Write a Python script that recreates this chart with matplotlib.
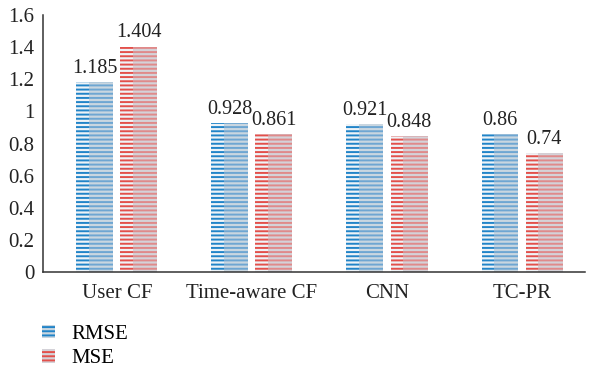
import matplotlib.pyplot as plt
import numpy as np
from matplotlib.patches import Patch

plt.rcParams['font.family'] = ['Liberation Serif', 'DejaVu Serif']
plt.rcParams['hatch.linewidth'] = 1.4

categories = ['User CF', 'Time-aware CF', 'CNN', 'TC-PR']
rmse = [1.185, 0.928, 0.921, 0.86]
mse = [1.404, 0.861, 0.848, 0.74]
rmse_labels = ['1.185', '0.928', '0.921', '0.86']
mse_labels = ['1.404', '0.861', '0.848', '0.74']

fig = plt.figure(figsize=(5.97, 3.68), dpi=100)
ax = fig.add_axes([0.072, 0.261, 0.908, 0.698])

x = np.arange(len(categories))
w = 0.274
off = 0.163

def striped(xc, vals, light_bg, light_line, dark_line):
    bars = ax.bar(xc, vals, w, color=light_bg, hatch='----',
                  edgecolor=light_line, linewidth=0)
    ax.bar(xc - w / 2, vals, w * 0.33, align='edge', color='#eef3f7',
           hatch='----', edgecolor=dark_line, linewidth=0)
    return bars

b1 = striped(x - off, rmse, '#c9d6e0', '#6ea6d2', '#2184c8')
b2 = striped(x + off, mse, '#d4d2d8', '#e08a8a', '#e3504b')

ax.bar_label(b1, labels=rmse_labels, padding=3, fontsize=14.5, color='#222222')
ax.bar_label(b2, labels=mse_labels, padding=3, fontsize=14.5, color='#222222')

ax.set_xlim(-0.548, 3.467)
ax.set_ylim(0, 1.6)
ax.set_yticks(np.arange(0, 1.61, 0.2))
ax.set_yticklabels(['0', '0.2', '0.4', '0.6', '0.8', '1', '1.2', '1.4', '1.6'])
ax.set_xticks(x)
ax.set_xticklabels(categories)
ax.tick_params(axis='both', length=0, labelsize=15, colors='#222222')
ax.tick_params(axis='y', pad=6)
ax.tick_params(axis='x', pad=9)
for s in ['top', 'right']:
    ax.spines[s].set_visible(False)
for s in ['bottom', 'left']:
    ax.spines[s].set_color('#333333')
    ax.spines[s].set_linewidth(1.1)

handles = [Patch(facecolor='#c9d6e0', edgecolor='#2184c8', hatch='----', linewidth=0),
           Patch(facecolor='#d4d2d8', edgecolor='#e3504b', hatch='----', linewidth=0)]
fig.legend(handles, ['RMSE', 'MSE'], loc='upper left', bbox_to_anchor=(0.07, 0.118),
           frameon=False, fontsize=15, handlelength=0.65, handleheight=0.65,
           handletextpad=0.75, labelspacing=0.25, borderpad=0, borderaxespad=0)

fig.savefig('out.png', dpi=100)
